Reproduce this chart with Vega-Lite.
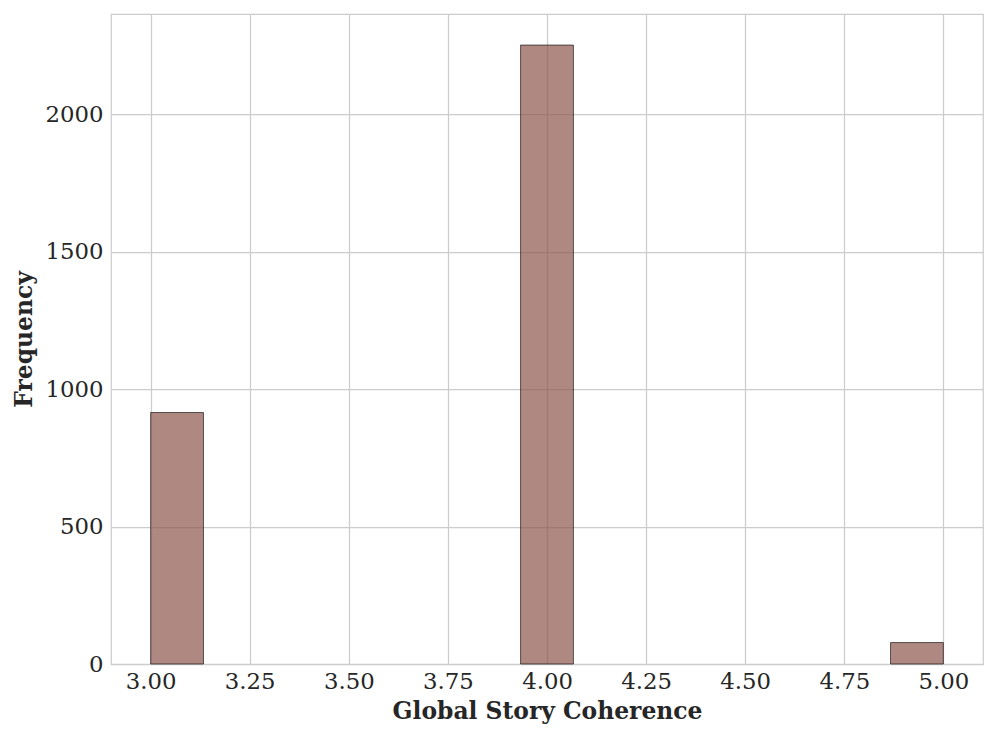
{
  "$schema": "https://vega.github.io/schema/vega-lite/v6.json",
  "width": 872,
  "height": 650,
  "autosize": {"type": "none"},
  "padding": {"left": 111, "top": 14, "right": 14, "bottom": 75},
  "background": "white",
  "config": {
    "font": "DejaVu Serif",
    "view": {"stroke": "#cccccc", "strokeWidth": 1.25},
    "axis": {
      "domain": false,
      "ticks": false,
      "grid": true,
      "gridColor": "#cccccc",
      "gridWidth": 1.25,
      "labelFont": "DejaVu Serif",
      "labelFontSize": 22.8,
      "labelColor": "#262626",
      "titleFont": "DejaVu Serif",
      "titleFontSize": 23.4,
      "titleFontWeight": "bold",
      "titleColor": "#262626"
    }
  },
  "data": {
    "values": [
      {"bin_start": 3.0, "bin_end": 3.1333, "count": 915},
      {"bin_start": 3.9333, "bin_end": 4.0667, "count": 2252},
      {"bin_start": 4.8667, "bin_end": 5.0, "count": 78}
    ]
  },
  "mark": {"type": "rect", "fill": "#8c564b", "fillOpacity": 0.7, "stroke": "#000000", "strokeOpacity": 0.6, "strokeWidth": 1},
  "encoding": {
    "x": {
      "field": "bin_start",
      "type": "quantitative",
      "scale": {"domain": [2.9, 5.1], "nice": false, "zero": false},
      "axis": {"title": "Global Story Coherence", "values": [3.0, 3.25, 3.5, 3.75, 4.0, 4.25, 4.5, 4.75, 5.0], "format": ".2f", "labelPadding": 6, "titlePadding": 8}
    },
    "x2": {"field": "bin_end"},
    "y": {
      "field": "count",
      "type": "quantitative",
      "scale": {"domain": [0, 2365], "nice": false},
      "axis": {"title": "Frequency", "values": [0, 500, 1000, 1500, 2000], "format": "d", "labelPadding": 8, "titlePadding": 8}
    },
    "y2": {"datum": 0}
  }
}
